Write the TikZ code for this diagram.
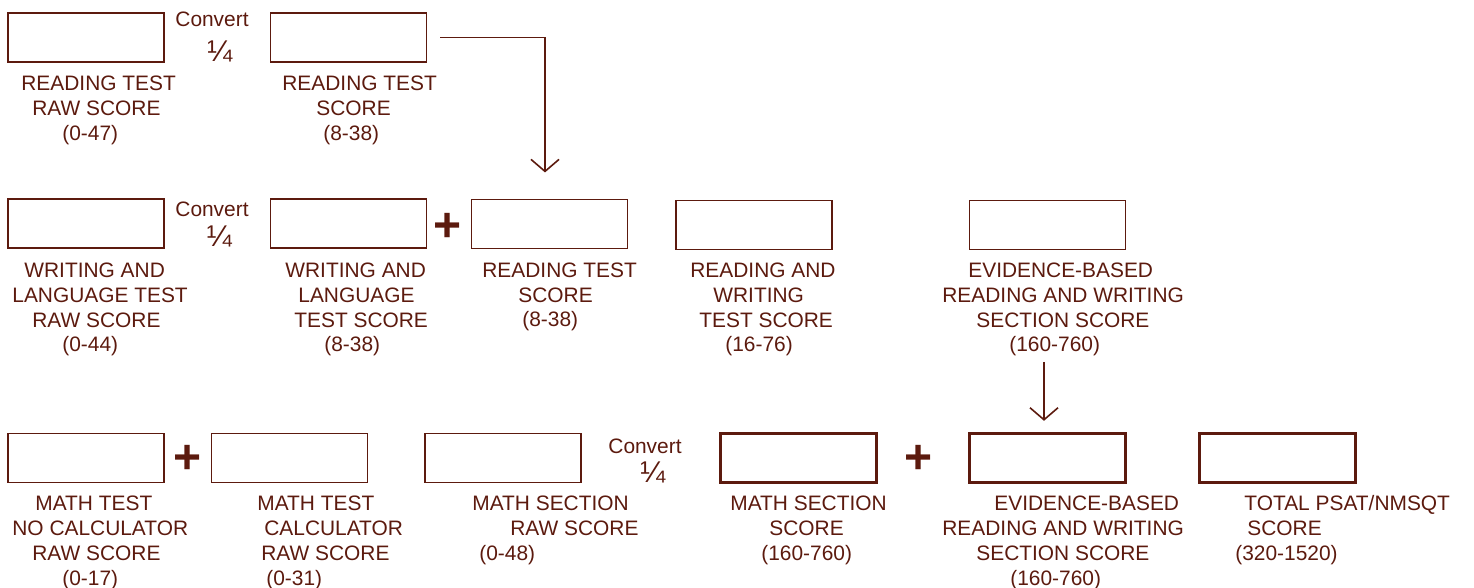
\documentclass[tikz,border=0pt]{standalone}
\usepackage{fontspec}
\setmainfont{Liberation Sans}
\usetikzlibrary{arrows.meta,positioning}
\definecolor{psatbrown}{RGB}{92,26,14}
\newlength{\pxlen}\setlength{\pxlen}{0.5pt}
\newcommand{\indentpx}[1]{\hspace*{#1\pxlen}}

\begin{document}
\begin{tikzpicture}[x=0.5pt, y=-0.5pt,
    every node/.style={text=psatbrown, inner sep=0pt},
    scorebox/.style={draw=psatbrown, line width=0.55pt, minimum width=78pt, minimum height=24.5pt},
    finalbox/.style={scorebox, line width=1.2pt},
    scorelabel/.style={anchor=base west, align=left, font=\fontsize{10.45}{12.45}\selectfont},
    convert/.style={anchor=base, font=\fontsize{10.45}{12.45}\selectfont},
    quarter/.style={anchor=base, font=\fontsize{15}{15}\selectfont},
    plus/.style={font=\fontsize{24}{24}\selectfont\bfseries},
    flow/.style={draw=psatbrown, line width=0.8pt, -{Straight Barb[length=6pt,width=14pt]}}]
  \useasboundingbox (0,0) rectangle (1474,588);

  % reading test (labels sit on the baseline of their last line)
  \node[scorebox] (rdraw) at (86,37.5) {};
  \node[scorebox] (rdscore) at (348.5,37.5) {};
  \node[convert] (conv1) at (212,27) {Convert};
  \node[quarter] (frac1) at (220,62) {¼};
  \node[scorelabel] (rdrawlbl) at (21,140.5) {READING TEST\\\indentpx{11}RAW SCORE\\\indentpx{41}(0-47)};
  \node[scorelabel] (rdscorelbl) at (282,140.5) {READING TEST\\\indentpx{34}SCORE\\\indentpx{41}(8-38)};

  % writing and language + reading
  \node[scorebox] (wlraw) at (86,223.5) {};
  \node[scorebox] (wlscore) at (348.5,223.5) {};
  \node[plus] (plus1) at (448,227) {+};
  \node[scorebox] (rdscore2) at (549.5,224) {};
  \node[scorebox, line width=0.7pt] (rwscore) at (754,225) {};
  \node[scorebox, line width=0.7pt] (ebrw) at (1047.5,225) {};
  \node[convert] (conv2) at (212,217) {Convert};
  \node[quarter] (frac2) at (219.5,247) {¼};
  \node[scorelabel] (wlrawlbl) at (12,352) {\indentpx{12}WRITING AND\\LANGUAGE TEST\\\indentpx{20}RAW SCORE\\\indentpx{50}(0-44)};
  \node[scorelabel] (wlscorelbl) at (285,352) {WRITING AND\\\indentpx{13}LANGUAGE\\\indentpx{9}TEST SCORE\\\indentpx{39}(8-38)};
  \node[scorelabel] (rdscore2lbl) at (482,327) {READING TEST\\\indentpx{36}SCORE\\\indentpx{40}(8-38)};
  \node[scorelabel] (rwscorelbl) at (690,352) {READING AND\\\indentpx{23}WRITING\\\indentpx{9}TEST SCORE\\\indentpx{35}(16-76)};
  \node[scorelabel] (ebrwlbl) at (942,352) {\indentpx{26}EVIDENCE-BASED\\READING AND WRITING\\\indentpx{34}SECTION SCORE\\\indentpx{67}(160-760)};

  % math and total
  \node[scorebox] (mnocalc) at (86,458) {};
  \node[plus] (plus2) at (188,459) {+};
  \node[scorebox] (mcalc) at (289.5,458) {};
  \node[scorebox] (mraw) at (503,458) {};
  \node[finalbox] (mscore) at (798.5,458) {};
  \node[plus] (plus3) at (919,459) {+};
  \node[finalbox] (ebrw2) at (1047.5,458) {};
  \node[finalbox] (total) at (1277.5,458) {};
  \node[convert] (conv3) at (645,453) {Convert};
  \node[quarter] (frac3) at (653,482) {¼};
  \node[scorelabel] (mnocalclbl) at (12,585) {\indentpx{23}MATH TEST\\NO CALCULATOR\\\indentpx{20}RAW SCORE\\\indentpx{50}(0-17)};
  \node[scorelabel] (mcalclbl) at (257,585) {MATH TEST\\\indentpx{7}CALCULATOR\\\indentpx{4}RAW SCORE\\\indentpx{9}(0-31)};
  \node[scorelabel] (mrawlbl) at (472,560) {MATH SECTION\\\indentpx{38}RAW SCORE\\\indentpx{7}(0-48)};
  \node[scorelabel] (mscorelbl) at (730,560) {MATH SECTION\\\indentpx{39}SCORE\\\indentpx{31}(160-760)};
  \node[scorelabel] (ebrw2lbl) at (942,585) {\indentpx{52}EVIDENCE-BASED\\READING AND WRITING\\\indentpx{34}SECTION SCORE\\\indentpx{68}(160-760)};
  \node[scorelabel] (totallbl) at (1235,560) {\indentpx{9}TOTAL PSAT/NMSQT\\\indentpx{12}SCORE\\(320-1520)};

  \draw[flow] ([xshift=6.5pt]rdscore.east) -| ([xshift=-2.25pt,yshift=13.25pt]rdscore2.north);
  \draw[flow] ([xshift=-1.75pt,yshift=35.25pt]ebrw2.north) -- ([xshift=-1.75pt,yshift=5.75pt]ebrw2.north);
\end{tikzpicture}
\end{document}
